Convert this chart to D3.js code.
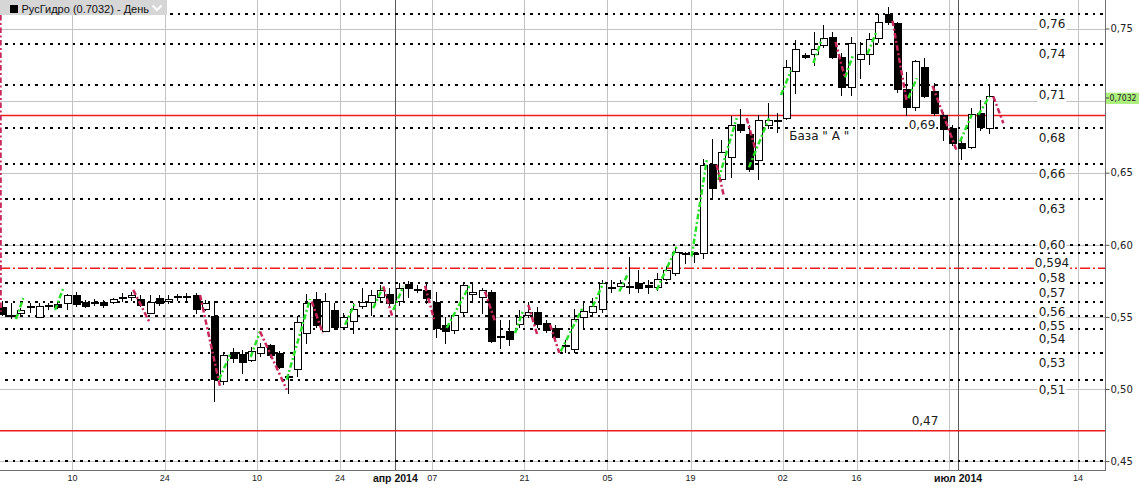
<!DOCTYPE html>
<html><head><meta charset="utf-8">
<script src="https://cdn.jsdelivr.net/npm/d3@7"></script>
<style>body{margin:0;background:#fff} svg{display:block}</style>
</head><body><svg id="c" width="1139" height="485"></svg>
<script>
// ---------------- DATA ----------------
const title = "РусГидро (0.7032) - День";
const startDate = "2014-01-29";
const holidays = ["2014-03-10","2014-05-01","2014-05-09","2014-06-12","2014-06-13"];
const totalSlots = 120;

const open  = [.5569,.5514,.5527,.5569,.5500,.5576,.5590,.5597,.5652,.5604,.5604,.5604,.5604,.5638,.5638,.5625,.5527,.5631,.5611,.5645,.5645,.5652,.5555,.5507,.5057,.5258,.5244,.5202,.5251,.5306,.5251,.5084,.5140,.5389,.5625,.5403,.5548,.5431,.5472,.5576,.5604,.5638,.5659,.5611,.5729,.5694,.5687,.5604,.5445,.5410,.5534,.5659,.5638,.5673,.5362,.5403,.5452,.5514,.5534,.5459,.5424,.5306,.5278,.5500,.5534,.5555,.5701,.5715,.5715,.5736,.5722,.5708,.5764,.5805,.5944,.5944,.5944,.6561,.6458,.6610,.6839,.6769,.6589,.6832,.6866,.6880,.7206,.7317,.7324,.7386,.7442,.7303,.7095,.7289,.7324,.7435,.7601,.7539,.7081,.6956,.7234,.7067,.6901,.6811,.6707,.6679,.6915,.6811];
const high  = [.5611,.5597,.5562,.5597,.5597,.5597,.5604,.5659,.5673,.5618,.5625,.5618,.5631,.5666,.5673,.5652,.5652,.5652,.5652,.5659,.5666,.5666,.5618,.5611,.5251,.5285,.5272,.5292,.5320,.5313,.5265,.5105,.5507,.5659,.5673,.5666,.5597,.5527,.5597,.5701,.5687,.5722,.5701,.5736,.5750,.5722,.5743,.5673,.5500,.5521,.5736,.5736,.5701,.5687,.5479,.5479,.5548,.5604,.5569,.5479,.5445,.5341,.5555,.5597,.5631,.5757,.5757,.5757,.5916,.5826,.5757,.5805,.5854,.5985,.5951,.5951,.6596,.6735,.6728,.6894,.6943,.6832,.6901,.6984,.6915,.7282,.7421,.7331,.7476,.7525,.7476,.7331,.7442,.7407,.7469,.7601,.7649,.7546,.7199,.7282,.7296,.7123,.6922,.6832,.6749,.6950,.7005,.7102];
const low   = [.5514,.5493,.5507,.5534,.5500,.5555,.5562,.5555,.5576,.5569,.5583,.5569,.5597,.5611,.5618,.5576,.5527,.5583,.5597,.5618,.5618,.5527,.5548,.4918,.5036,.5188,.5112,.5195,.5230,.5223,.5147,.4973,.5091,.5320,.5431,.5403,.5417,.5424,.5389,.5562,.5514,.5618,.5583,.5583,.5638,.5673,.5597,.5362,.5320,.5389,.5514,.5618,.5527,.5327,.5285,.5306,.5431,.5500,.5431,.5396,.5341,.5258,.5258,.5424,.5507,.5534,.5673,.5694,.5666,.5673,.5666,.5687,.5757,.5791,.5874,.5881,.5910,.6326,.6451,.6471,.6783,.6513,.6458,.6811,.6783,.6875,.7054,.7296,.7248,.7372,.7296,.7040,.7040,.7157,.7254,.7407,.7532,.7060,.6901,.6936,.7026,.6901,.6728,.6693,.6596,.6672,.6797,.6776];
const close = [.5520,.5510,.5548,.5576,.5576,.5580,.5569,.5652,.5590,.5576,.5600,.5583,.5625,.5640,.5652,.5583,.5604,.5597,.5625,.5645,.5642,.5555,.5597,.5071,.5237,.5216,.5188,.5265,.5292,.5237,.5154,.5088,.5466,.5597,.5445,.5611,.5431,.5500,.5555,.5604,.5652,.5687,.5597,.5701,.5701,.5690,.5631,.5424,.5403,.5514,.5722,.5673,.5687,.5334,.5365,.5348,.5500,.5534,.5452,.5410,.5362,.5303,.5486,.5541,.5576,.5736,.5705,.5736,.5712,.5701,.5708,.5764,.5826,.5951,.5937,.5940,.6555,.6395,.6645,.6832,.6797,.6527,.6866,.6866,.6862,.7234,.7358,.7303,.7358,.7435,.7303,.7095,.7400,.7324,.7428,.7546,.7546,.7081,.6956,.7275,.7033,.6915,.6804,.6707,.6672,.6908,.6818,.7032];

// swing segments: [startIndex, startValue, endIndex, endValue]
const swingUp = [[-0.16,.7608,-0.15,.7740],[1.52,.5485,2.31,.5631],[5.75,.5548,6.65,.5700],[23.53,.5065,24.72,.5238],[26.96,.5222,27.97,.5399],[30.87,.5065,33.39,.5624],[37.19,.5446,38.27,.5596],[40.25,.5561,41.34,.5711],[42.42,.5548,43.51,.5711],[48.21,.5423,50.74,.5723],[55.62,.5388,56.52,.5548],[60.57,.5261,63.02,.5573],[64.04,.5573,65.19,.5735],[66.92,.5676,67.90,.5804],[70.98,.5687,73.15,.5988],[74.77,.5919,76.40,.6589],[77.66,.6451,79.65,.6878],[80.98,.6537,83.15,.6878],[84.45,.7039,85.54,.7209],[87.96,.7261,88.90,.7428],[91.39,.7161,92.31,.7324],[93.83,.7324,94.83,.7483],[98.26,.7017,99.17,.7155],[103.86,.6716,105.13,.6901],[105.84,.6901,107.04,.7028]];
const swingDown = [[-0.17,.7594,-0.15,.5535],[14.23,.5687,15.94,.5469],[21.47,.5652,23.63,.5018],[27.97,.5399,30.87,.4995],[33.58,.5607,34.77,.5388],[41.34,.5711,42.36,.5492],[45.86,.5716,46.83,.5485],[52.36,.5676,53.45,.5469],[57.06,.5584,58.08,.5365],[59.41,.5446,60.42,.5250],[77.48,.6555,78.27,.6335],[80.73,.6878,81.64,.6670],[90.36,.7407,91.39,.7157],[96.54,.7554,98.08,.6993],[100.88,.7102,103.53,.6646],[107.47,.7028,108.56,.6843]];

const dotLevels = [0.760,0.739,0.7106,0.6812,0.6559,0.6316,0.600,0.5941,0.5733,0.5603,0.5506,0.5414,0.5248,0.5063,0.450];
const dotLabels = ["0,76","0,74","0,71","0,68","0,66","0,63","0,60","0,594","0,57","0,56","0,55","0,54","0,53","0,51",""];
const redLevels = [0.6896,0.4711];
const redLabels = ["0,69","0,47"];
const dashLevels = [0.5837];
const dashLabels = ["0,58"];
const baseText = "База \" А \"";
const baseValue = 0.6812;
const baseIndex = 85.4;

const priceTicks = [0.45,0.50,0.55,0.60,0.65,0.70,0.75];
const lastPrice = 0.7032;
const dayTicks = ["2014-02-10","2014-02-24","2014-03-10","2014-03-24","2014-04-07","2014-04-21","2014-05-05","2014-05-19","2014-06-02","2014-06-16","2014-06-30","2014-07-14"];
const monthTicks = ["2014-04-01","2014-07-01"];
const monthLabels = ["апр 2014","июл 2014"];

// ---------------- LAYOUT ----------------
const W=1139,H=485,PR=1105,PB=470;
const parse = d3.utcParse("%Y-%m-%d"), fmt = d3.utcFormat("%Y-%m-%d");
const slots = [];
let d = parse(startDate);
while (slots.length < open.length) {
  const wd = d.getUTCDay();
  if (wd!==0 && wd!==6 && !holidays.includes(fmt(d))) slots.push(d);
  d = d3.utcDay.offset(d,1);
}
while (slots.length < totalSlots) { slots.push(d); d = d3.utcDay.offset(d,1); }
const slotOf = s => d3.bisectLeft(slots, parse(s));

const xs = d3.scaleLinear().domain([0,totalSlots]).range([-1.3,1105.6]);
const cx = i => xs(i) + 3.3;
const ys = d3.scaleLinear().domain([0.45,0.75]).range([461.1,28.5]);

const svg = d3.select("#c");
svg.append("rect").attr("width",W).attr("height",H).attr("fill","#fff");
svg.append("defs").append("clipPath").attr("id","plot").append("rect").attr("x",0).attr("y",0).attr("width",PR).attr("height",PB);
const g = svg.append("g").attr("clip-path","url(#plot)");

// grid
const grid = g.append("g").attr("shape-rendering","crispEdges");
grid.selectAll("line.h").data(priceTicks).join("line")
  .attr("x1",0).attr("x2",PR).attr("y1",v=>Math.round(ys(v))+0.5).attr("y2",v=>Math.round(ys(v))+0.5)
  .attr("stroke","#c4c4c4");
grid.selectAll("line.v").data(dayTicks).join("line")
  .attr("x1",s=>Math.round(xs(slotOf(s)))+0.5).attr("x2",s=>Math.round(xs(slotOf(s)))+0.5)
  .attr("y1",0).attr("y2",PB).attr("stroke","#c4c4c4");
grid.selectAll("line.m").data(monthTicks).join("line")
  .attr("x1",s=>Math.round(xs(slotOf(s)))+0.5).attr("x2",s=>Math.round(xs(slotOf(s)))+0.5)
  .attr("y1",0).attr("y2",PB).attr("stroke","#5a5a5a").attr("stroke-width",1.4);

// levels
const lv = g.append("g");
lv.selectAll("line.dot").data(dotLevels).join("line")
  .attr("x1",5).attr("x2",PR).attr("y1",v=>Math.round(ys(v))).attr("y2",v=>Math.round(ys(v)))
  .attr("stroke","#000").attr("stroke-width",2.5).attr("stroke-dasharray","2.5,5")
  .attr("shape-rendering","crispEdges");
lv.selectAll("line.red").data(redLevels).join("line")
  .attr("x1",0).attr("x2",PR).attr("y1",v=>ys(v)).attr("y2",v=>ys(v))
  .attr("stroke","#ee1c1c").attr("stroke-width",1.5);
lv.selectAll("line.dash").data(dashLevels).join("line")
  .attr("x1",0).attr("x2",PR).attr("y1",v=>ys(v)).attr("y2",v=>ys(v))
  .attr("stroke","#ee1c1c").attr("stroke-width",1.5).attr("stroke-dasharray","10,3,2,3");

// candles
const cg = g.append("g").attr("shape-rendering","crispEdges");
open.forEach((o,i)=>{
  const h=high[i], l=low[i], c=close[i];
  const x = Math.round(cx(i))+0.5;
  cg.append("line").attr("x1",x).attr("x2",x).attr("y1",Math.round(ys(h))).attr("y2",Math.round(ys(l))+1).attr("stroke","#000");
  const yt = Math.round(ys(Math.max(o,c))), yb = Math.round(ys(Math.min(o,c)));
  if (yb-yt < 2) {
    cg.append("rect").attr("x",x-4).attr("y",yt).attr("width",8).attr("height",Math.max(2,yb-yt)).attr("fill","#000");
  } else {
    cg.append("rect").attr("x",x-3.5).attr("y",yt+0.5).attr("width",7).attr("height",yb-yt)
      .attr("fill", c>=o ? "#fff" : "#000").attr("stroke","#000");
  }
});

// swings
const sw = g.append("g").attr("fill","none").attr("stroke-width",2.5).attr("stroke-linecap","butt");
sw.selectAll("line.up").data(swingUp).join("line")
  .attr("x1",s=>cx(s[0])).attr("y1",s=>ys(s[1])).attr("x2",s=>cx(s[2])).attr("y2",s=>ys(s[3]))
  .attr("stroke","#28e028").attr("stroke-dasharray","5.5,2.5,2,2.5");
sw.selectAll("line.dn").data(swingDown).join("line")
  .attr("x1",s=>cx(s[0])).attr("y1",s=>ys(s[1])).attr("x2",s=>cx(s[2])).attr("y2",s=>ys(s[3]))
  .attr("stroke","#c8285a").attr("stroke-dasharray","5.5,2.5,2,2.5");

// level labels
const labelStyle = {"0,60":{dy:4.5},"0,69":{x:922,dy:13},"0,47":{x:925,dy:-6}};
const allLabels = [];
dotLevels.forEach((v,i)=>{ if(dotLabels[i]) allLabels.push({v,t:dotLabels[i]}); });
redLevels.forEach((v,i)=>allLabels.push({v,t:redLabels[i]}));
dashLevels.forEach((v,i)=>allLabels.push({v,t:dashLabels[i]}));
allLabels.sort((a,b)=>b.v-a.v);
const lg = g.append("g");
function boxedText(x, y, t, anchor){
  const gg = lg.append("g");
  const r = gg.append("rect").attr("fill","#fff");
  const tx = gg.append("text").attr("x",x).attr("y",y).attr("text-anchor",anchor)
    .attr("font-family","DejaVu Sans").attr("font-size",12).attr("fill","#1a1a1a").text(t);
  const b = tx.node().getBBox();
  r.attr("x",b.x-1).attr("y",b.y).attr("width",b.width+2).attr("height",b.height);
}
allLabels.forEach(L=>{
  const st = Object.assign({x:1052,dy:14}, labelStyle[L.t]||{});
  boxedText(st.x, ys(L.v)+st.dy, L.t, "middle");
});
boxedText(cx(baseIndex)-0.5, ys(baseValue)+12.5, baseText, "start");

// axes
const ax = svg.append("g").attr("shape-rendering","crispEdges");
ax.append("line").attr("x1",PR+0.5).attr("x2",PR+0.5).attr("y1",0).attr("y2",PB+1).attr("stroke","#707070");
ax.append("line").attr("x1",0).attr("x2",PR+1).attr("y1",PB+0.5).attr("y2",PB+0.5).attr("stroke","#707070");
const yp = ys(lastPrice);
const yAxis = svg.append("g").attr("transform",`translate(${PR+0.5},0)`)
  .call(d3.axisRight(ys).tickValues(priceTicks).tickSize(4).tickPadding(1)
    .tickFormat(v=>d3.format(".2f")(v).replace(".",",")));
yAxis.select(".domain").remove();
yAxis.selectAll("line").attr("stroke","#555");
yAxis.selectAll("text").attr("font-family","DejaVu Sans").attr("font-size",10).attr("fill","#222");
// the current-price marker covers the tick label next to it
yAxis.selectAll(".tick").filter(v=>Math.abs(ys(v)-yp)<10).select("text").remove();

// current price box
svg.append("rect").attr("x",PR+1).attr("y",yp-3.3).attr("width",W-PR).attr("height",11.3).attr("fill","#adef7f");
svg.append("line").attr("x1",PR+1).attr("x2",PR+4).attr("y1",yp+2).attr("y2",yp+2).attr("stroke","#444");
svg.append("text").attr("x",PR+4.5).attr("y",yp+5.5).attr("font-family","DejaVu Sans").attr("font-size",9)
  .attr("textLength",27).attr("lengthAdjust","spacingAndGlyphs").attr("fill","#222")
  .text(d3.format(".4f")(lastPrice).replace(".",","));

// bottom labels
const monthX = monthTicks.map(s=>xs(slotOf(s)));
const xl = svg.append("g");
dayTicks.forEach(s=>{
  const x = xs(slotOf(s));
  if (monthX.some(m=>Math.abs(m-x)<30)) return;
  xl.append("text").attr("x",x).attr("y",481).attr("text-anchor","middle")
    .attr("font-family","Liberation Sans").attr("font-size",9).attr("fill","#222").text(s.slice(8));
});
monthTicks.forEach((s,i)=>{
  xl.append("text").attr("x",monthX[i]).attr("y",481.5).attr("text-anchor","middle")
    .attr("font-family","Liberation Sans").attr("font-weight","bold").attr("font-size",10.5).attr("fill","#111").text(monthLabels[i]);
});

// title
const tg = svg.append("g");
tg.append("rect").attr("x",0).attr("y",0).attr("width",167).attr("height",15).attr("fill","#d6d6d6");
tg.append("rect").attr("x",10).attr("y",5).attr("width",8).attr("height",8).attr("fill","#000");
tg.append("text").attr("x",21.5).attr("y",12.5).attr("font-family","Liberation Sans").attr("font-size",11).attr("fill","#111").text(title);
tg.append("polyline").attr("points","152.5,5.5 157,10 161.5,5.5").attr("fill","none").attr("stroke","#fff").attr("stroke-width",2);
</script></body></html>
